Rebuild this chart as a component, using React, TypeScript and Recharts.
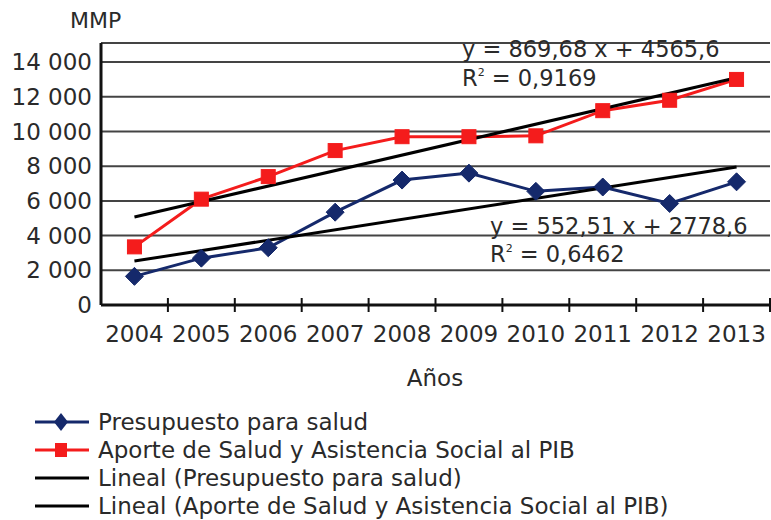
import React from "react";
import { LineChart, Line, XAxis, YAxis, CartesianGrid } from "recharts";

const years = [2004, 2005, 2006, 2007, 2008, 2009, 2010, 2011, 2012, 2013];
const presupuesto = [1650, 2700, 3300, 5350, 7200, 7600, 6550, 6800, 5850, 7100];
const aporte = [3350, 6100, 7400, 8900, 9700, 9700, 9750, 11200, 11800, 13000];
const trendPresupuesto = [2530, null, null, null, null, null, null, null, null, 7950];
const trendAporte = [5070, null, null, null, null, null, null, null, null, 13100];
const yTicks = [0, 2000, 4000, 6000, 8000, 10000, 12000, 14000];

const seriesNames = [
  "Presupuesto para salud",
  "Aporte de Salud y Asistencia Social al PIB",
  "Lineal (Presupuesto para salud)",
  "Lineal (Aporte de Salud y Asistencia Social al PIB)",
];

const data = years.map((y, i) => ({
  year: y,
  presupuesto: presupuesto[i],
  aporte: aporte[i],
  trendP: trendPresupuesto[i],
  trendA: trendAporte[i],
}));

const xTicks = years.flatMap((y) => [y, y + 0.5]);

const FONT = "DejaVu Sans";
const TEXT = "#2a2a2a";
const BLUE = "#15296b";
const RED = "#f41c1c";

const fmt = (v: number) => String(v).replace(/\B(?=(\d{3})+(?!\d))/g, " ");

const XTick = (props: any) => {
  const { x, y, payload } = props;
  const v = payload.value;
  if (Number.isInteger(v)) {
    return (
      <text x={x} y={y + 37} textAnchor="middle" fontFamily={FONT} fontSize={23} fill={TEXT}>
        {v}
      </text>
    );
  }
  return <line x1={x} x2={x} y1={y - 7} y2={y + 7} stroke="#111" strokeWidth={2} />;
};

const Diamond = (props: any) => {
  const { cx, cy, key } = props;
  if (cx == null || cy == null) return <g key={key} />;
  return (
    <polygon
      key={key}
      points={`${cx},${cy - 9} ${cx + 9},${cy} ${cx},${cy + 9} ${cx - 9},${cy}`}
      fill={BLUE}
      stroke={BLUE}
    />
  );
};

const Square = (props: any) => {
  const { cx, cy, key } = props;
  if (cx == null || cy == null) return <g key={key} />;
  return <rect key={key} x={cx - 7} y={cy - 7} width={14} height={14} fill={RED} stroke={RED} />;
};

export default function App() {
  return (
    <div style={{ position: "absolute", left: 0, top: 0, width: 771, height: 520, background: "#fff" }}>
      <LineChart
        width={771}
        height={520}
        data={data}
        margin={{ top: 43, right: 1, bottom: 185, left: 0 }}
      >
        <CartesianGrid vertical={false} stroke="#444" strokeWidth={2} />
        <XAxis
          dataKey="year"
          type="number"
          domain={[2003.5, 2013.5]}
          ticks={xTicks}
          interval={0}
          tick={<XTick />}
          tickLine={false}
          tickSize={0}
          tickMargin={0}
          height={30}
          axisLine={{ stroke: "#111", strokeWidth: 3 }}
        />
        <YAxis
          type="number"
          domain={[0, 15100]}
          ticks={yTicks}
          width={101}
          tickFormatter={fmt}
          tickLine={false}
          tickSize={0}
          tickMargin={9}
          tick={{ fontFamily: FONT, fontSize: 23, fill: TEXT }}
          axisLine={{ stroke: "#111", strokeWidth: 3 }}
        />
        <Line
          dataKey="presupuesto"
          stroke={BLUE}
          strokeWidth={3}
          dot={<Diamond />}
          isAnimationActive={false}
        />
        <Line
          dataKey="aporte"
          stroke={RED}
          strokeWidth={3}
          dot={<Square />}
          isAnimationActive={false}
        />
        <Line
          dataKey="trendP"
          stroke="#000"
          strokeWidth={3}
          dot={false}
          connectNulls
          isAnimationActive={false}
        />
        <Line
          dataKey="trendA"
          stroke="#000"
          strokeWidth={3}
          dot={false}
          connectNulls
          isAnimationActive={false}
        />
      </LineChart>
      <svg
        width={771}
        height={520}
        style={{ position: "absolute", left: 0, top: 0, pointerEvents: "none" }}
        fontFamily={FONT}
        fontSize={22.5}
        fill={TEXT}
      >
        <text x={70} y={28} fontSize={22}>MMP</text>
        <text x={435} y={386} textAnchor="middle" fontSize={23}>Años</text>
        <text x={462} y={57}>y = 869,68 x + 4565,6</text>
        <text x={462} y={86}>
          R<tspan fontSize={11} dy={-10}>2</tspan>
          <tspan dy={10}> = 0,9169</tspan>
        </text>
        <text x={490} y={234}>y = 552,51 x + 2778,6</text>
        <text x={490} y={262}>
          R<tspan fontSize={11} dy={-10}>2</tspan>
          <tspan dy={10}> = 0,6462</tspan>
        </text>
        {seriesNames.map((name, i) => {
          const cy = 422 + i * 28;
          const color = i === 0 ? BLUE : i === 1 ? RED : "#000";
          return (
            <g key={name}>
              <line x1={35} x2={89} y1={cy} y2={cy} stroke={color} strokeWidth={3} />
              {i === 0 && (
                <polygon points={`61,${cy - 9} 68,${cy} 61,${cy + 9} 54,${cy}`} fill={BLUE} />
              )}
              {i === 1 && <rect x={55} y={cy - 7} width={12} height={14} fill={RED} />}
              <text x={98} y={cy + 8} fontSize={23}>{name}</text>
            </g>
          );
        })}
      </svg>
    </div>
  );
}
